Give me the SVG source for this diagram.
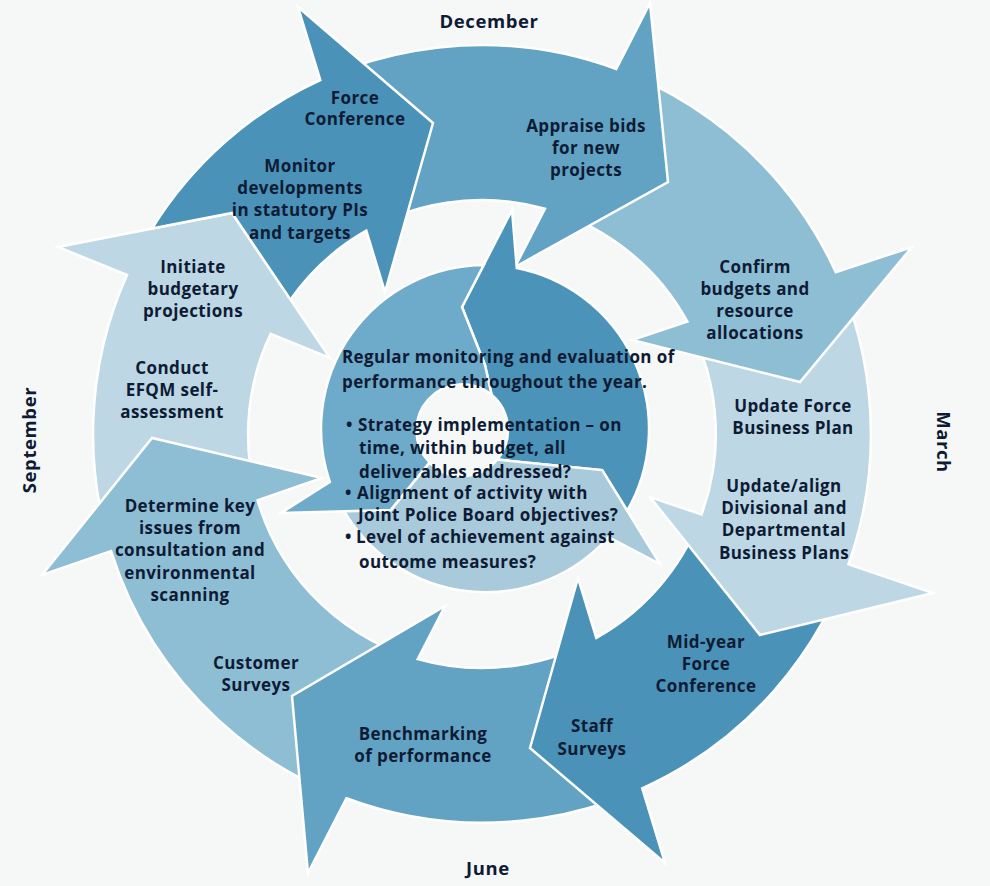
<svg xmlns="http://www.w3.org/2000/svg" width="990" height="886" viewBox="0 0 990 886">
<defs>
<style>
.arw{stroke:#ffffff;stroke-width:2.5;stroke-linejoin:miter}
.c1{fill:#4a92b7}
.c2{fill:#62a3c4}
.c3{fill:#8ebed4}
.c4{fill:#bdd7e4}
.i1{fill:#4b93b8}
.i2{fill:#6eaac9}
.i3{fill:#a9cadb}
text{font-family:"Open Sans","Liberation Sans",sans-serif;font-weight:700;font-size:17px;fill:#0e1b34;letter-spacing:0.4px}
.lbl{text-anchor:middle}
.mon{font-size:18.5px;letter-spacing:0.6px;text-anchor:middle}
</style>
</defs>
<rect width="990" height="886" fill="#f6f7f7"/>

<g id="months">
<text class="mon" x="489" y="28">December</text>
<text class="mon" x="488" y="875">June</text>
<text class="mon" transform="translate(36,440) rotate(-90)" x="0" y="0">September</text>
<text class="mon" transform="translate(937,442) rotate(90)" x="0" y="0">March</text>
</g>

<g id="outer-cycle">
<g id="node-initiate">
<path class="arw c4" d="M116.5,567 A389,389 0 0 1 127,275 L58,247 L232,213 L330,358 L270.7,333.8 A234,234 0 0 0 262.1,514 Z"/>
<text class="lbl" x="193" y="273">Initiate</text>
<text class="lbl" x="193" y="295">budgetary</text>
<text class="lbl" x="193" y="317">projections</text>
<text class="lbl" x="172" y="374">Conduct</text>
<text class="lbl" x="172" y="396">EFQM self-</text>
<text class="lbl" x="172" y="418">assessment</text>
</g>
<g id="node-determine">
<path class="arw c3" d="M394.5,813 A389,389 0 0 1 111,551 L42,575 L152,438 L322,478 L257.6,500.3 A234,234 0 0 0 429.4,662 Z"/>
<text class="lbl" x="190" y="512">Determine key</text>
<text class="lbl" x="190" y="534">issues from</text>
<text class="lbl" x="190" y="556">consultation and</text>
<text class="lbl" x="190" y="579">environmental</text>
<text class="lbl" x="190" y="601">scanning</text>
<text class="lbl" x="256" y="669">Customer</text>
<text class="lbl" x="256" y="691">Surveys</text>
</g>
<g id="node-benchmarking">
<path class="arw c2" d="M688.1,763.9 A389,389 0 0 1 346.4,798.2 L308,873 L292,696 L445,606 L417.7,659.1 A234,234 0 0 0 606,632.4 Z"/>
<text class="lbl" x="423" y="740">Benchmarking</text>
<text class="lbl" x="423" y="762">of performance</text>
</g>
<g id="node-midyear">
<path class="arw c1" d="M854,547.7 A389,389 0 0 1 642.2,788.3 L665,863 L530,748 L578,578 L596.3,637.9 A234,234 0 0 0 705.8,502.4 Z"/>
<text class="lbl" x="706" y="648">Mid-year</text>
<text class="lbl" x="706" y="670">Force</text>
<text class="lbl" x="706" y="692">Conference</text>
<text class="lbl" x="592" y="732">Staff</text>
<text class="lbl" x="592" y="755">Surveys</text>
</g>
<g id="node-update">
<path class="arw c4" d="M811.9,227.9 A389,389 0 0 1 848.4,564.3 L933,593 L760,635 L650,497 L701.5,514.5 A234,234 0 0 0 680.4,310 Z"/>
<text class="lbl" x="793" y="412">Update Force</text>
<text class="lbl" x="793" y="434">Business Plan</text>
<text class="lbl" x="784" y="492">Update/align</text>
<text class="lbl" x="784" y="514">Divisional and</text>
<text class="lbl" x="784" y="536">Departmental</text>
<text class="lbl" x="784" y="559">Business Plans</text>
</g>
<g id="node-confirm">
<path class="arw c3" d="M569.5,55 A389,389 0 0 1 835.8,272.3 L912,247 L800,382 L632,340 L687.4,321.6 A234,234 0 0 0 534.6,206 Z"/>
<text class="lbl" x="755" y="273">Confirm</text>
<text class="lbl" x="755" y="295">budgets and</text>
<text class="lbl" x="755" y="317">resource</text>
<text class="lbl" x="755" y="339">allocations</text>
</g>
<g id="node-appraise">
<path class="arw c2" d="M270.1,107.7 A389,389 0 0 1 616.25,69 L650,3 L668,182 L515,267 L544.9,208.7 A234,234 0 0 0 354.6,237.7 Z"/>
<text class="lbl" x="586" y="132">Appraise bids</text>
<text class="lbl" x="586" y="154">for new</text>
<text class="lbl" x="586" y="176">projects</text>
</g>
<g id="node-force-conference">
<path class="arw c1" d="M152,228.6 A389,389 0 0 1 320.3,80 L298,7 L433,123 L385,292 L366.3,230.7 A234,234 0 0 0 290.5,299.6 L232,213 Z"/>
<text class="lbl" x="355" y="104">Force</text>
<text class="lbl" x="355" y="125">Conference</text>
<text class="lbl" x="300" y="172">Monitor</text>
<text class="lbl" x="300" y="194">developments</text>
<text class="lbl" x="300" y="216">in statutory PIs</text>
<text class="lbl" x="300" y="239">and targets</text>
</g>
</g>

<g id="connectors">
<path class="arw i1" d="M512,210 L516.8,268.1 A164,164 0 0 1 627.2,510.7 L602.2,470.1 L497.2,459.6 A46,46 0 0 0 491.6,394.8 L485,365 L462,307 Z"/>
<path class="arw i3" d="M660,564 L608.4,537 A164,164 0 0 1 343,509.2 L390.8,509.9 L429.5,462.5 A46,46 0 0 0 497.2,459.6 L602.2,470.1 Z"/>
<path class="arw i2" d="M281,513 L329.8,481.9 A164,164 0 0 1 483.7,265 L462,307 L485,365 L491.6,394.8 A46,46 0 0 0 429.5,462.5 L390.8,509.9 Z"/>
</g>

<g id="node-monitoring">
<text x="342" y="363">Regular monitoring and evaluation of</text>
<text x="342" y="388">performance throughout the year.</text>
<text x="346" y="431">•</text><text x="358" y="431">Strategy implementation – on</text>
<text x="359" y="454">time, within budget, all</text>
<text x="359" y="478">deliverables addressed?</text>
<text x="345" y="499">•</text><text x="357" y="499">Alignment of activity with</text>
<text x="358" y="521">Joint Police Board objectives?</text>
<text x="345" y="543">•</text><text x="356" y="543">Level of achievement against</text>
<text x="359" y="568">outcome measures?</text>
</g>
</svg>
